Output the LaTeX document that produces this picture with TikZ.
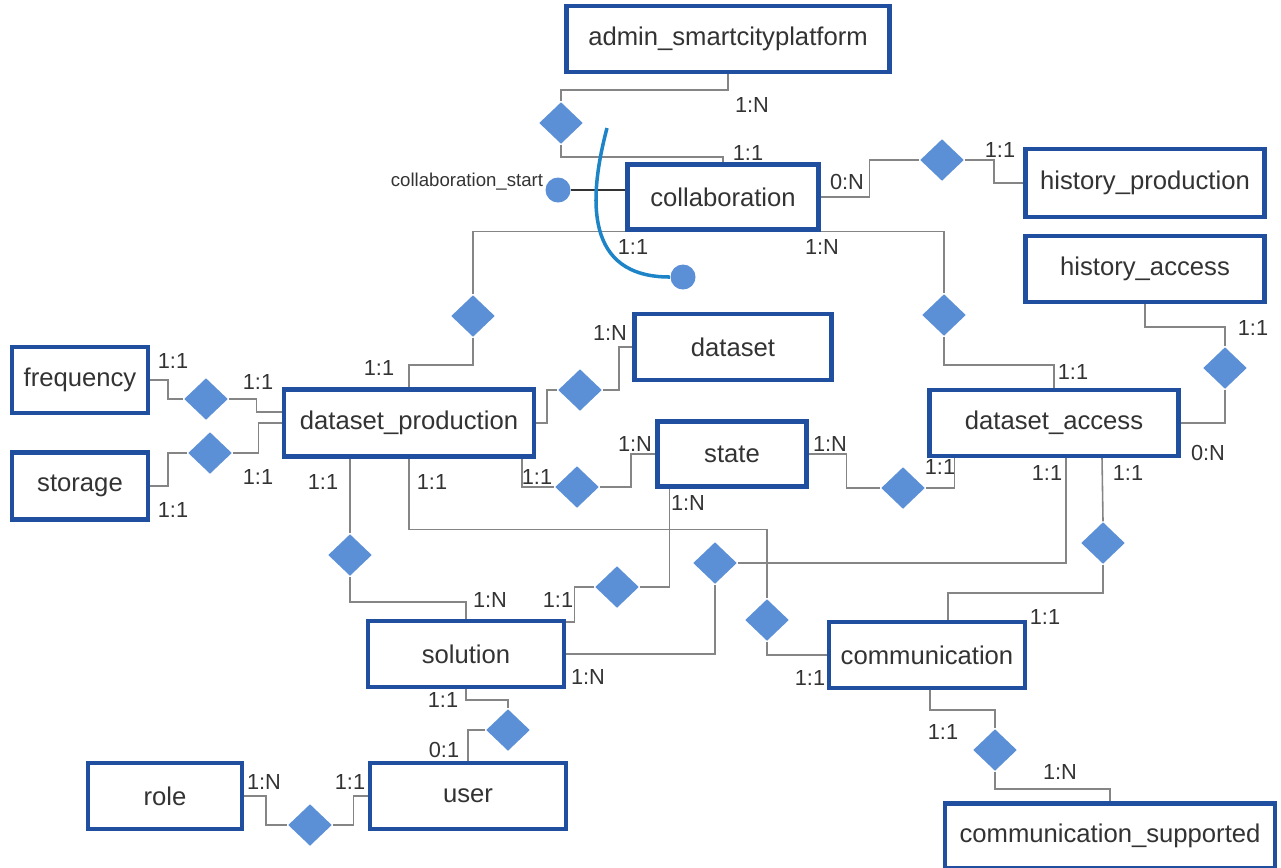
\documentclass[tikz,border=0pt]{standalone}
\usepackage{fontspec}
\setmainfont{Liberation Sans}
\usetikzlibrary{calc, shapes}

\definecolor{entblue}{HTML}{1F4F9E}
\definecolor{relblue}{HTML}{5B8FD6}
\definecolor{lngray}{HTML}{858585}
\definecolor{txtgray}{HTML}{333333}
\definecolor{arcblue}{HTML}{1E84C8}

\begin{document}
\begin{tikzpicture}[x=0.1mm, y=-0.1mm,
        ent/.style={rectangle, draw=entblue, line width=1.2pt, fill=white, text=txtgray,
            font=\fontsize{7.3}{8}\selectfont, minimum height=6.6mm},
        rel/.style={diamond, fill=relblue, inner sep=0pt, minimum width=4.4mm, minimum height=4.2mm},
        dot/.style={circle, fill=relblue, inner sep=0pt, minimum size=2.5mm},
        ln/.style={draw=lngray, line width=0.45pt},
        card/.style={text=txtgray, font=\fontsize{6.2}{7}\selectfont, inner sep=0pt}]
            \useasboundingbox (0,0) rectangle (1281,867);

            \draw (728,39) node[ent, minimum width=32.3mm](admin){admin\_smartcityplatform};
            \draw (723,197) node[ent, minimum width=19.1mm, minimum height=6.5mm](collab){collaboration};
            \draw (1145,183) node[ent, minimum width=23.9mm, minimum height=6.8mm](hprod){history\_production};
            \draw (1145,269) node[ent, minimum width=23.9mm](hacc){history\_access};
            \draw (733,347) node[ent, minimum width=19.7mm](dataset){dataset};
            \draw (80,380) node[ent, minimum width=13.6mm](freq){frequency};
            \draw (80,486) node[ent, minimum width=13.6mm, minimum height=6.7mm](stor){storage};
            \draw (409,423) node[ent, minimum width=25mm, minimum height=6.7mm](dp){dataset\_production};
            \draw (732,454) node[ent, minimum width=14.9mm, minimum height=6.5mm](state){state};
            \draw (1054,423) node[ent, minimum width=24.9mm](dacc){dataset\_access};
            \draw (466,654) node[ent, minimum width=19.6mm](sol){solution};
            \draw (927,655) node[ent, minimum width=19.4mm](comm){communication};
            \draw (165,796) node[ent, minimum width=15.4mm](role){role};
            \draw (468,796) node[ent, minimum width=19.6mm](user){user};
            \draw (1110,836) node[ent, minimum width=33mm, minimum height=6.5mm](csup){communication\_supported};

            \draw (561,123) node[rel](d1){};
            \draw (942,160) node[rel](d2){};
            \draw (473,316) node[rel](d3){};
            \draw (944,315) node[rel](d4){};
            \draw (1225,368) node[rel](d5){};
            \draw (206,399) node[rel](d6){};
            \draw (210,453) node[rel](d7){};
            \draw (580,390) node[rel](d8){};
            \draw (577,487) node[rel](d9){};
            \draw (903,488) node[rel](d10){};
            \draw (350,555) node[rel](d11){};
            \draw (617,587) node[rel](d12){};
            \draw (715,563) node[rel](d13){};
            \draw (767,620) node[rel](d14){};
            \draw (1103,543) node[rel](d15){};
            \draw (508,730) node[rel](d16){};
            \draw (310,825) node[rel](d17){};
            \draw (995,750) node[rel](d18){};

            \begin{scope}[ln]
                \draw (admin.south) -- ++(0,16) -| (d1.north);
                \draw (d1.south) -- ++(0,12) -| (collab.north);
                \draw (collab.east) -- ++(49,0) |- (d2.west);
                \draw (d2.east) -- ++(29,0) |- (hprod.west);
                \draw (collab.south west) -| (d3.north);
                \draw (collab.south east) -| (d4.north);
                \draw (d3.south) -- ++(0,27) -| (dp.north);
                \draw (d4.south) -- ++(0,28) -| (dacc.north);
                \draw (hacc.south) -- ++(0,23) -| (d5.north);
                \draw (d5.south) |- (dacc.east);
                \draw (freq.east) -- ++(18,0) |- (d6.west);
                \draw (d6.east) -- ++(28,0) |- ($(dp.west)+(0,-11)$);
                \draw (stor.east) -- ++(18,0) |- (d7.west);
                \draw (d7.east) -- ++(26,0) |- (dp.west);
                \draw (dp.east) -- ++(11,0) |- (d8.west);
                \draw (d8.east) -- ++(16,0) |- (dataset.west);
                \draw ($(dp.south east)+(-14,0)$) |- (d9.west);
                \draw (d9.east) -- ++(31,0) |- (state.west);
                \draw (state.east) -- ++(38,0) |- (d10.west);
                \draw (d10.east) -| ($(dacc.south west)+(27,0)$);
                \draw ($(dp.south)+(-59,0)$) -- (d11.north);
                \draw (d11.south) -- ++(0,25) -| (sol.north);
                \draw ($(state.south west)+(14,0)$) |- (d12.east);
                \draw (d12.west) -- ++(-20,0) |- ($(sol.north east)+(0,3)$);
                \draw (sol.east) -| (d13.south);
                \draw (d13.east) -| ($(dacc.south)+(12,0)$);
                \draw (dp.south) -- ++(0,71) -| (d14.north);
                \draw (d14.south) |- (comm.west);
                \draw ($(dacc.south)+(48,0)$) -- (d15.north);
                \draw (d15.south) -- ++(0,28) -| ($(comm.north)+(21,0)$);
                \draw (sol.south) -- ++(0,11) -| (d16.north);
                \draw (d16.west) -| (user.north);
                \draw (role.east) -- ++(22,0) |- (d17.west);
                \draw (d17.east) -- ++(21,0) |- (user.west);
                \draw ($(comm.south)+(3,0)$) -- ++(0,20) -| (d18.north);
                \draw (d18.south) -- ++(0,17) -| (csup.north);
            \end{scope}

            \foreach \x/\y/\t [count=\i] in {752/105/1:N, 748/153/1:1, 847/182/0:N, 1000/150/1:1,
                    633/247/1:1, 822/247/1:N, 379/368/1:1, 1073/372/1:1, 1253/328/1:1, 1208/453/0:N,
                    173/361/1:1, 258/382/1:1, 258/477/1:1, 173/510/1:1, 610/333/1:N,
                    537/477/1:1, 635/444/1:N, 830/444/1:N, 940/467/1:1, 323/482/1:1, 490/600/1:N,
                    432/482/1:1, 688/503/1:N, 558/600/1:1, 588/677/1:N, 1047/473/1:1, 810/678/1:1,
                    1128/473/1:1, 1045/617/1:1, 443/700/1:1, 444/750/0:1, 264/782/1:N, 350/782/1:1,
                    943/732/1:1, 1060/772/1:N}
                \draw (\x,\y) node[card](k\i){\t};

            \draw (558,190) node[dot](cstart){};
            \draw ($(cstart.west)+(-1,-8)$) node[anchor=east, text=txtgray, inner sep=0pt,
                font=\fontsize{5.3}{6}\selectfont](cstartlbl){collaboration\_start};
            \draw[txtgray, line width=0.5pt] (cstart) -- (cstart -| collab.west);

            \draw (683,277) node[dot](cend){};
            \coordinate (arctop) at (607,128);
            \draw[arcblue, line width=1pt] (arctop) .. controls (588,200) and (585,277) .. (cend.west);
        \end{tikzpicture}
\end{document}
